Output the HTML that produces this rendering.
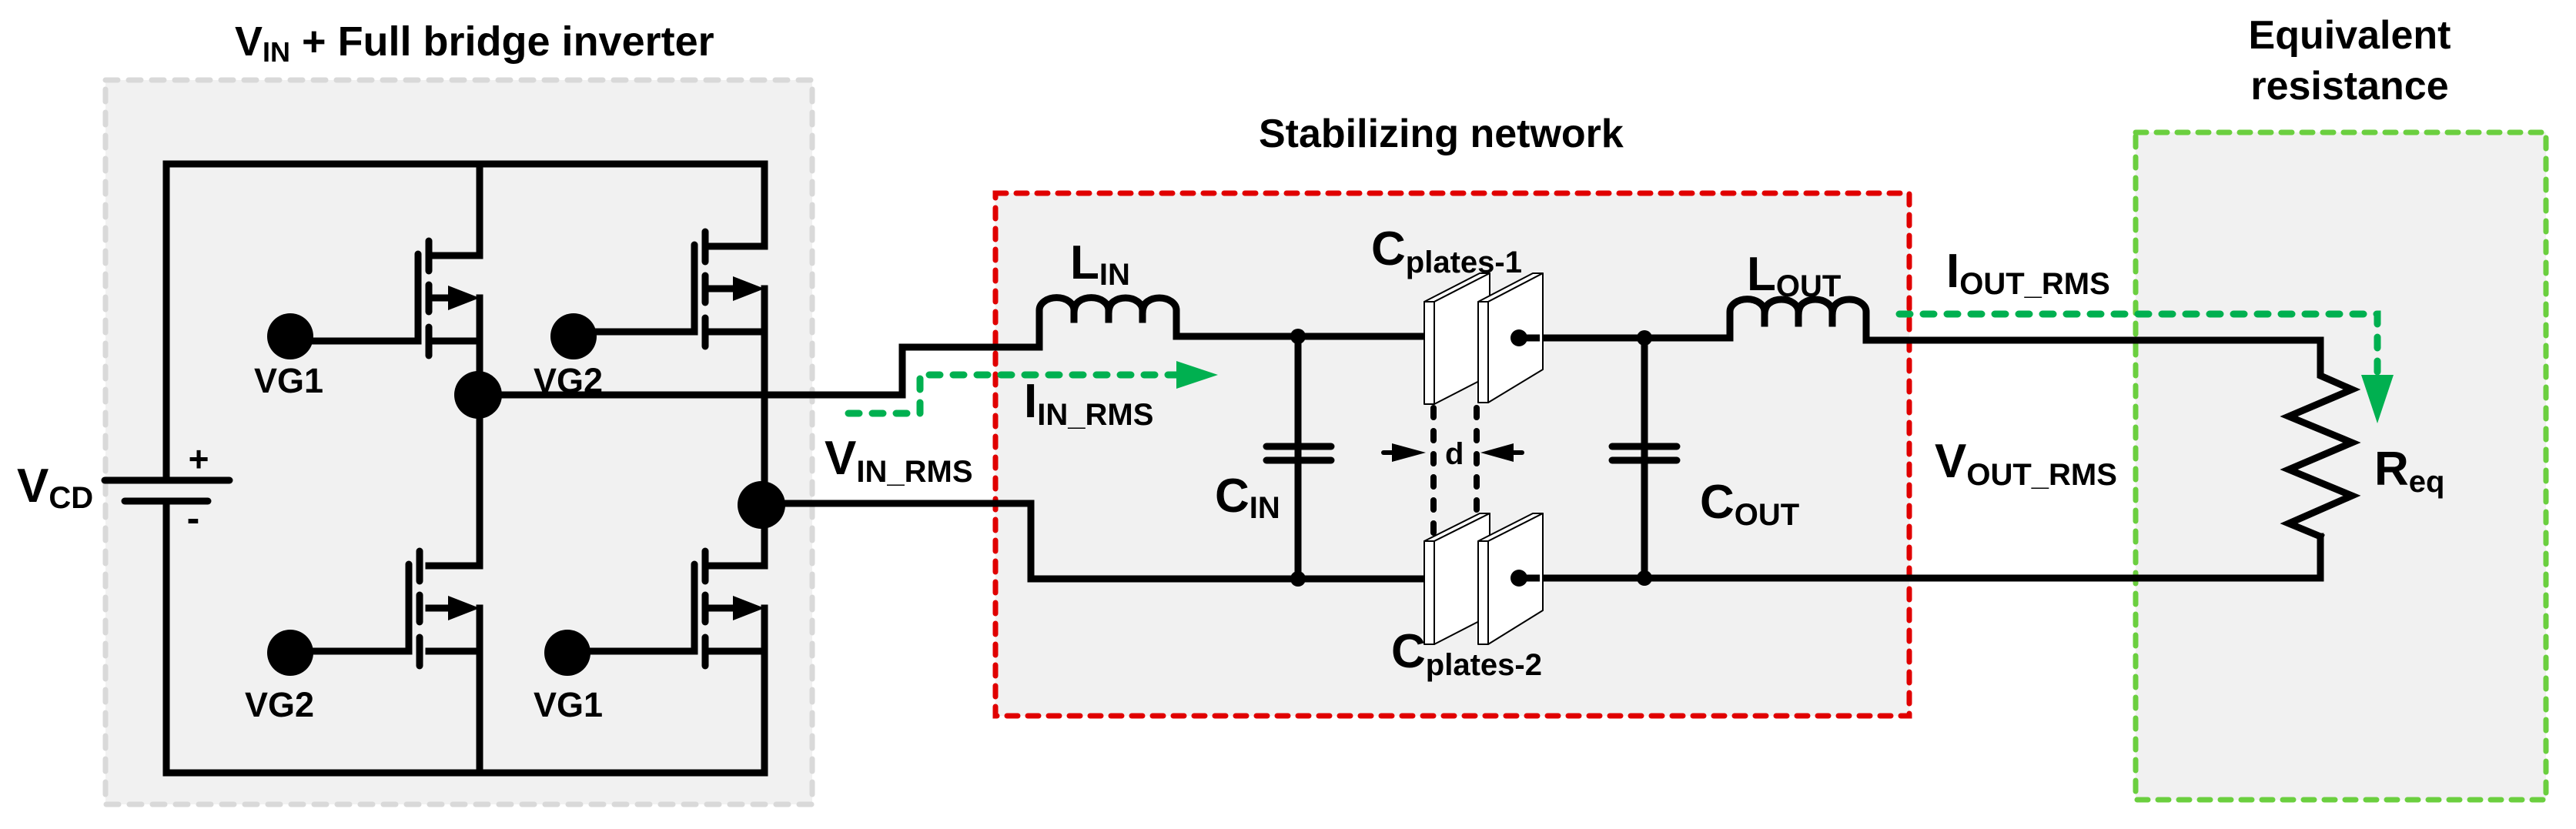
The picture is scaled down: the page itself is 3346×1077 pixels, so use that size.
<!DOCTYPE html>
<html><head><meta charset="utf-8"><style>
html,body{margin:0;padding:0;background:#fff;}
svg{display:block;}
text{font-family:"Liberation Sans",Arial,sans-serif;font-weight:bold;fill:#000;}
</style></head><body>
<svg width="3346" height="1077" viewBox="0 0 3346 1077" xmlns="http://www.w3.org/2000/svg">
<defs>
<g id="fet">
 <!-- origin: gate x=0, drain y=0 -->
 <line x1="0" y1="-2" x2="0" y2="111" stroke="#000" stroke-width="9" stroke-linecap="round"/>
 <line x1="14" y1="-19" x2="14" y2="20" stroke="#000" stroke-width="9" stroke-linecap="round"/>
 <line x1="14" y1="38" x2="14" y2="73" stroke="#000" stroke-width="9" stroke-linecap="round"/>
 <line x1="14" y1="93" x2="14" y2="130" stroke="#000" stroke-width="9" stroke-linecap="round"/>
</g>
</defs>

<!-- boxes -->
<rect x="137" y="104" width="918" height="941" fill="#f1f1f1" stroke="#d9d9d9" stroke-width="7" stroke-dasharray="16 14" stroke-linecap="round"/>
<rect x="1293" y="251" width="1187" height="679" fill="#f1f1f1" stroke="#e00000" stroke-width="7" stroke-dasharray="14 13" stroke-linecap="round"/>
<rect x="2774" y="172" width="533" height="867" fill="#f1f1f1" stroke="#6bcf3f" stroke-width="7" stroke-dasharray="14 13" stroke-linecap="round"/>

<!-- titles -->
<text x="305" y="72" font-size="54">V<tspan font-size="36" dy="8">IN</tspan><tspan dy="-8"> + Full bridge inverter</tspan></text>
<text x="1635" y="191" font-size="52">Stabilizing network</text>
<text x="3052" y="63" font-size="52" text-anchor="middle">Equivalent</text>
<text x="3052" y="129" font-size="52" text-anchor="middle">resistance</text>

<g stroke="#000" stroke-width="9" fill="none" stroke-linecap="square" stroke-linejoin="miter">
 <!-- bridge rails -->
 <polyline points="216,624 216,213 993,213 993,320"/>
 <polyline points="216,651 216,1004 993,1004 993,790"/>
 <line x1="623" y1="213" x2="623" y2="332"/>
 <line x1="623" y1="387" x2="623" y2="735"/>
 <line x1="623" y1="790" x2="623" y2="1004"/>
 <line x1="993" y1="375" x2="993" y2="735"/>
 <!-- battery -->
 <line x1="136" y1="624" x2="298" y2="624" stroke-linecap="round"/>
 <line x1="162" y1="651" x2="270" y2="651" stroke-linecap="round"/>
 <!-- FET drains/sources/arrows -->
 <polyline points="557,332 623,332"/><polyline points="557,443 623,443"/><line x1="557" y1="387" x2="585" y2="387"/>
 <polyline points="916,320 993,320"/><polyline points="916,431 993,431"/><line x1="916" y1="375" x2="955" y2="375"/>
 <polyline points="557,735 623,735"/><polyline points="557,846 623,846"/><line x1="557" y1="790" x2="585" y2="790"/>
 <polyline points="916,735 993,735"/><polyline points="916,846 993,846"/><line x1="916" y1="790" x2="955" y2="790"/>
 <!-- gate wires -->
 <polyline points="377,443 543,443"/>
 <polyline points="745,431 902,431"/>
 <polyline points="377,846 531,846"/>
 <polyline points="737,846 902,846"/>
 <!-- output wires from bridge -->
 <polyline points="623,513 1172,513 1172,451 1350,451"/>
 <polyline points="993,654 1339,654 1339,752 1850,752"/>
 <!-- L_IN -->
 <path d="M1350,451 V403 A22,16 0 0 1 1395,403 V415 M1395,403 A22,16 0 0 1 1440,403 V415 M1440,403 A22,16 0 0 1 1484,403 V415 M1484,403 A22,16 0 0 1 1528,403 V437 H1850"/>
 <!-- C_IN -->
 <line x1="1686" y1="437" x2="1686" y2="752"/>
 <line x1="1645" y1="580" x2="1729" y2="580" stroke-linecap="round"/>
 <line x1="1645" y1="598" x2="1729" y2="598" stroke-linecap="round"/>
 <!-- right side wires -->
 <polyline points="1973,439 2247,439"/>
 <polyline points="1973,751 3014,751 3014,697"/>
 <line x1="2136" y1="439" x2="2136" y2="751"/>
 <line x1="2094" y1="580" x2="2178" y2="580" stroke-linecap="round"/>
 <line x1="2094" y1="598" x2="2178" y2="598" stroke-linecap="round"/>
 <!-- L_OUT -->
 <path d="M2247,439 V405 A22,16 0 0 1 2292,405 V420 M2292,405 A22,16 0 0 1 2336,405 V420 M2336,405 A22,16 0 0 1 2380,405 V420 M2380,405 A22,16 0 0 1 2424,405 V442 H3014 V488 L3055,506 L2973,541 L3055,575 L2973,610 L3055,644 L2973,680 L3014,697" stroke-linejoin="miter"/>
</g>

<!-- battery +/- -->
<text x="258" y="612" font-size="46" text-anchor="middle">+</text>
<text x="251" y="690" font-size="50" text-anchor="middle">-</text>
<text x="22" y="652" font-size="62">V<tspan font-size="40" dy="8">CD</tspan></text>

<!-- FET gate/channel -->
<use href="#fet" x="543" y="332"/>
<use href="#fet" x="902" y="320"/>
<use href="#fet" x="531" y="735"/>
<use href="#fet" x="902" y="735"/>
<!-- arrowheads -->
<polygon points="582,371 623,387 582,403" fill="#000"/>
<polygon points="952,359 993,375 952,391" fill="#000"/>
<polygon points="582,774 623,790 582,806" fill="#000"/>
<polygon points="952,774 993,790 952,806" fill="#000"/>

<!-- dots -->
<circle cx="377" cy="437" r="30" fill="#000"/>
<circle cx="745" cy="437" r="30" fill="#000"/>
<circle cx="377" cy="848" r="30" fill="#000"/>
<circle cx="737" cy="848" r="30" fill="#000"/>
<circle cx="621" cy="513" r="31" fill="#000"/>
<circle cx="989" cy="656" r="31" fill="#000"/>
<circle cx="1686" cy="437" r="10" fill="#000"/>
<circle cx="1686" cy="752" r="10" fill="#000"/>
<circle cx="2136" cy="439" r="10" fill="#000"/>
<circle cx="2136" cy="751" r="10" fill="#000"/>

<text x="330" y="510" font-size="45">VG1</text>
<text x="693" y="510" font-size="45">VG2</text>
<text x="318" y="931" font-size="45">VG2</text>
<text x="693" y="931" font-size="45">VG1</text>

<!-- dashed d lines -->
<g stroke="#000" stroke-width="8" stroke-linecap="round" stroke-dasharray="12 18">
 <line x1="1862" y1="530" x2="1862" y2="700"/>
 <line x1="1918" y1="530" x2="1918" y2="700"/>
</g>
<g stroke="#000" stroke-width="6" stroke-linecap="round">
 <line x1="1797" y1="588" x2="1815" y2="588"/>
 <line x1="1960" y1="588" x2="1977" y2="588"/>
</g>
<polygon points="1808,576 1852,588 1808,600" fill="#000"/>
<polygon points="1966,576 1923,588 1966,600" fill="#000"/>
<text x="1877" y="603" font-size="40">d</text>

<!-- plates -->
<g fill="#fff" stroke="#000" stroke-width="2" stroke-linejoin="round">
 <polygon points="1850,392 1922,355 1935,355 1863,392"/>
 <polygon points="1863,392 1935,355 1935,488 1863,525"/>
 <rect x="1850" y="392" width="13" height="133"/>
 <polygon points="1920,392 1991,355 2004,355 1933,392"/>
 <polygon points="1933,392 2004,355 2004,480 1933,523"/>
 <rect x="1920" y="392" width="13" height="131"/>
 <polygon points="1850,703 1922,667 1935,667 1863,703"/>
 <polygon points="1863,703 1935,667 1935,800 1863,837"/>
 <rect x="1850" y="703" width="13" height="134"/>
 <polygon points="1920,703 1991,667 2004,667 1933,703"/>
 <polygon points="1933,703 2004,667 2004,793 1933,837"/>
 <rect x="1920" y="703" width="13" height="134"/>
</g>
<circle cx="1973" cy="439" r="11" fill="#000"/>
<circle cx="1973" cy="751" r="11" fill="#000"/>
<line x1="1973" y1="439" x2="2000" y2="439" stroke="#000" stroke-width="9"/>
<line x1="1973" y1="751" x2="2000" y2="751" stroke="#000" stroke-width="9"/>

<!-- green current arrows -->
<g stroke="#00b050" stroke-width="9" fill="none" stroke-linecap="round" stroke-dasharray="14 17">
 <polyline points="1102,537 1195,537 1195,487 1535,487"/>
 <polyline points="2467,408 3088,408 3088,490"/>
</g>
<polygon points="1528,469 1582,487 1528,505" fill="#00b050"/>
<polygon points="3067,487 3109,487 3088,550" fill="#00b050"/>

<!-- labels -->
<text x="1071" y="616" font-size="62">V<tspan font-size="40" dy="10">IN_RMS</tspan></text>
<text x="1330" y="542" font-size="62">I<tspan font-size="40" dy="10">IN_RMS</tspan></text>
<text x="1390" y="362" font-size="62">L<tspan font-size="40" dy="8">IN</tspan></text>
<text x="1578" y="665" font-size="62">C<tspan font-size="40" dy="8">IN</tspan></text>
<text x="1781" y="344" font-size="62">C<tspan font-size="40" dy="10">plates-1</tspan></text>
<text x="1807" y="867" font-size="62">C<tspan font-size="40" dy="10">plates-2</tspan></text>
<text x="2269" y="377" font-size="62">L<tspan font-size="40" dy="8">OUT</tspan></text>
<text x="2208" y="673" font-size="62">C<tspan font-size="40" dy="9">OUT</tspan></text>
<text x="2528" y="373" font-size="62">I<tspan font-size="40" dy="9">OUT_RMS</tspan></text>
<text x="2513" y="620" font-size="62">V<tspan font-size="40" dy="10">OUT_RMS</tspan></text>
<text x="3084" y="630" font-size="62">R<tspan font-size="40" dy="9">eq</tspan></text>
</svg>
</body></html>
